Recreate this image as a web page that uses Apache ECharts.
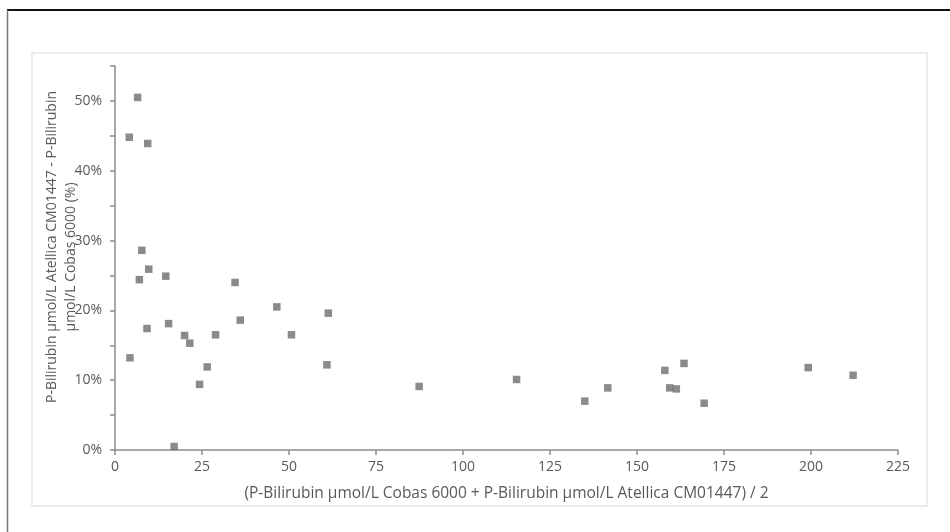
<!DOCTYPE html>
<html>
<head>
<meta charset="utf-8">
<script src="https://cdn.jsdelivr.net/npm/echarts@6/dist/echarts.min.js"></script>
<style>html,body{margin:0;padding:0;background:#fff}#c{width:950px;height:532px}</style>
</head>
<body>
<div id="c"></div>
<script>
// Mean of the two methods (µmol/L)
var meanValues = [6.5, 4.1, 9.4, 7.7, 9.7, 7.0, 14.6, 34.5, 46.5, 50.7, 9.2, 15.4, 20.0, 21.5, 28.9, 36.0, 4.3, 26.5, 24.3, 17.0, 61.3, 60.9, 87.4, 115.4, 135.0, 141.6, 158.0, 163.5, 159.4, 161.3, 169.3, 199.2, 212.1];
// Relative difference (%)
var diffPercent = [50.5, 44.8, 43.9, 28.6, 25.9, 24.4, 24.9, 24.0, 20.5, 16.5, 17.4, 18.1, 16.4, 15.3, 16.5, 18.6, 13.2, 11.9, 9.4, 0.5, 19.6, 12.2, 9.1, 10.1, 7.0, 8.9, 11.4, 12.4, 8.9, 8.75, 6.7, 11.8, 10.7];
var xTitle = '(P-Bilirubin µmol/L Cobas 6000 + P-Bilirubin µmol/L Atellica CM01447) / 2';
var yTitleLine1 = 'P-Bilirubin µmol/L Atellica CM01447 - P-Bilirubin';
var yTitleLine2 = 'µmol/L Cobas 6000 (%)';

var points = meanValues.map(function (x, i) { return [x, diffPercent[i]]; });
var FONT = 'Open Sans';
var chart = echarts.init(document.getElementById('c'), null, {renderer: 'canvas'});
chart.setOption({
  animation: false,
  backgroundColor: '#ffffff',
  textStyle: {fontFamily: FONT},
  grid: {left: 115, right: 52, top: 66, bottom: 82, containLabel: false},
  xAxis: {
    type: 'value', min: 0, max: 225, interval: 25,
    axisLine: {show: true, lineStyle: {color: '#8c8c8c', width: 1.5}},
    axisTick: {show: true, length: 5, lineStyle: {color: '#8c8c8c', width: 1.5}},
    axisLabel: {color: '#595959', fontSize: 14, fontFamily: FONT, margin: 10},
    splitLine: {show: false},
    name: xTitle, nameLocation: 'middle', nameGap: 36,
    nameTextStyle: {color: '#595959', fontSize: 15.5, fontFamily: FONT}
  },
  yAxis: {
    type: 'value', min: 0, max: 55, interval: 5,
    axisLine: {show: true, lineStyle: {color: '#8c8c8c', width: 1.5}},
    axisTick: {show: true, length: 5, lineStyle: {color: '#8c8c8c', width: 1.5}},
    axisLabel: {color: '#595959', fontSize: 14, fontFamily: FONT, margin: 13,
      formatter: function (v) { return (Math.round(v) % 10 === 0) ? Math.round(v) + '%' : ''; }},
    splitLine: {show: false}
  },
  graphic: [
    {type: 'line', shape: {x1: 7, y1: 10, x2: 950, y2: 10}, style: {stroke: '#111', lineWidth: 2}, silent: true},
    {type: 'line', shape: {x1: 7.5, y1: 10, x2: 7.5, y2: 532}, style: {stroke: '#777', lineWidth: 1.5}, silent: true},
    {type: 'rect', shape: {x: 32, y: 53, width: 895, height: 453}, style: {fill: 'none', stroke: '#ececec', lineWidth: 2}, silent: true},
    {type: 'text', x: 52, y: 247, rotation: Math.PI / 2, style: {text: yTitleLine1, fill: '#595959', font: '14px "' + FONT + '"', align: 'center', verticalAlign: 'middle'}, silent: true},
    {type: 'text', x: 71, y: 257, rotation: Math.PI / 2, style: {text: yTitleLine2, fill: '#595959', font: '14px "' + FONT + '"', align: 'center', verticalAlign: 'middle'}, silent: true}
  ],
  series: [{
    type: 'scatter',
    data: points,
    symbol: 'rect',
    symbolSize: 7.5,
    itemStyle: {color: '#6e6e6e'}
  }]
});
</script>
</body>
</html>
